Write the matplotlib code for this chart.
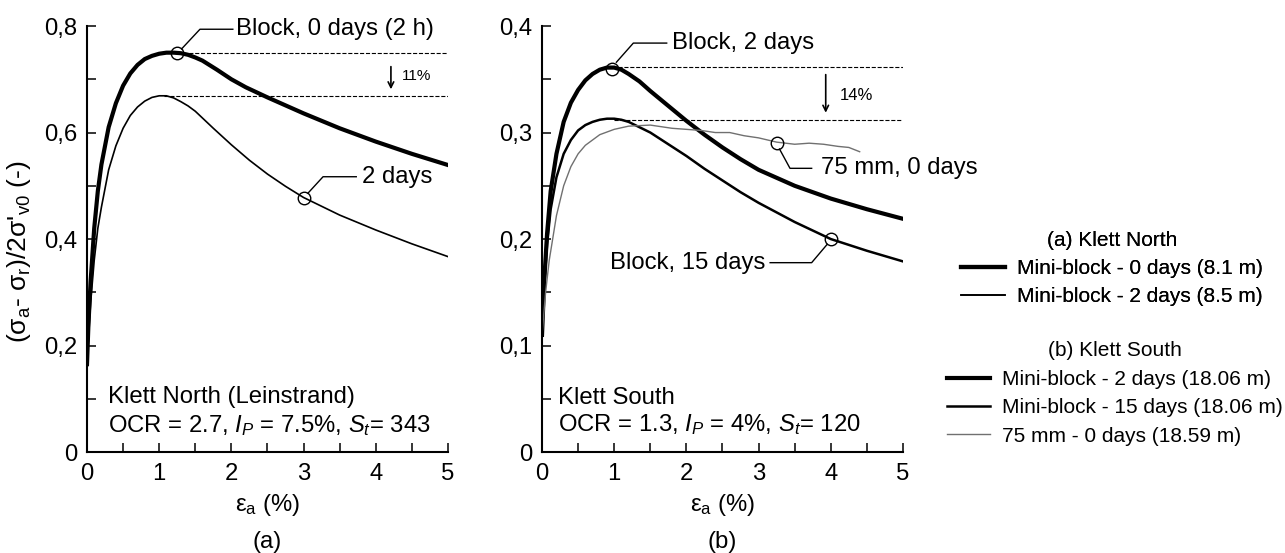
import matplotlib
matplotlib.use("Agg")
import matplotlib.pyplot as plt
from matplotlib.ticker import MultipleLocator, FuncFormatter

plt.rcParams['font.family'] = ['Liberation Sans', 'DejaVu Sans']
plt.rcParams['mathtext.fontset'] = 'custom'
plt.rcParams['mathtext.rm'] = 'Liberation Sans'
plt.rcParams['mathtext.it'] = 'Liberation Sans:italic'

# (a) Klett North
strain_a0 = [0, 0.02, 0.05, 0.1, 0.15, 0.2, 0.3, 0.4, 0.5, 0.6, 0.7, 0.8, 0.9, 1.0, 1.1,
             1.2, 1.3, 1.4, 1.5, 1.6, 1.8, 2.0, 2.2, 2.5, 2.75, 3.0, 3.5, 4.0, 4.5, 5.0]
stress_a0 = [0.165, 0.24, 0.32, 0.42, 0.49, 0.54, 0.61, 0.655, 0.688, 0.711, 0.727, 0.738,
             0.744, 0.748, 0.750, 0.750, 0.749, 0.746, 0.741, 0.735, 0.718, 0.700, 0.685,
             0.666, 0.651, 0.636, 0.608, 0.583, 0.560, 0.539]
strain_a2 = [0, 0.05, 0.1, 0.15, 0.2, 0.3, 0.4, 0.5, 0.6, 0.7, 0.8, 0.9, 1.0, 1.1, 1.2,
             1.3, 1.4, 1.5, 1.75, 2.0, 2.25, 2.5, 2.75, 3.0, 3.5, 4.0, 4.5, 5.0]
stress_a2 = [0.165, 0.28, 0.36, 0.42, 0.46, 0.53, 0.575, 0.608, 0.632, 0.648, 0.659, 0.666,
             0.669, 0.669, 0.665, 0.658, 0.650, 0.640, 0.608, 0.577, 0.548, 0.522, 0.499,
             0.478, 0.445, 0.417, 0.391, 0.367]

# (b) Klett South
strain_b2 = [0, 0.03, 0.07, 0.12, 0.2, 0.3, 0.4, 0.5, 0.6, 0.7, 0.8, 0.9, 1.0, 1.1, 1.2,
             1.35, 1.5, 1.75, 2.0, 2.25, 2.5, 2.75, 3.0, 3.5, 4.0, 4.5, 5.0]
stress_b2 = [0.11, 0.16, 0.205, 0.245, 0.28, 0.31, 0.328, 0.34, 0.349, 0.355, 0.359, 0.361,
             0.361, 0.359, 0.355, 0.348, 0.339, 0.325, 0.311, 0.298, 0.286, 0.275, 0.265,
             0.250, 0.238, 0.228, 0.219]
strain_b15 = [0, 0.03, 0.07, 0.12, 0.2, 0.3, 0.4, 0.5, 0.6, 0.7, 0.8, 0.9, 1.0, 1.1, 1.2,
              1.35, 1.5, 1.75, 2.0, 2.25, 2.5, 2.75, 3.0, 3.5, 4.0, 4.5, 5.0]
stress_b15 = [0.11, 0.155, 0.195, 0.228, 0.258, 0.28, 0.293, 0.302, 0.307, 0.310, 0.312,
              0.313, 0.313, 0.312, 0.310, 0.305, 0.300, 0.289, 0.278, 0.266, 0.255, 0.244,
              0.234, 0.216, 0.200, 0.189, 0.179]
strain_b75 = [0, 0.05, 0.1, 0.2, 0.3, 0.4, 0.5, 0.6, 0.8, 1.0, 1.2, 1.5, 1.8, 2.0,
              2.2, 2.4, 2.6, 2.8, 3.0, 3.25, 3.5, 3.7, 3.9, 4.1, 4.25, 4.4]
stress_b75 = [0.11, 0.15, 0.18, 0.222, 0.25, 0.268, 0.28, 0.288, 0.298, 0.303, 0.306,
              0.307, 0.304, 0.303, 0.302, 0.300, 0.300, 0.297, 0.295, 0.291, 0.289,
              0.290, 0.289, 0.287, 0.286, 0.282]

fig = plt.figure(figsize=(12.85, 5.53), dpi=100)
ax1 = fig.add_axes([0.0677, 0.1826, 0.2809, 0.7703])
ax2 = fig.add_axes([0.4218, 0.1826, 0.2809, 0.7703])

FS = 17.2
comma = FuncFormatter(lambda v, p: ('%g' % v).replace('.', ','))

for ax, ymax, ystep in [(ax1, 0.8, 0.2), (ax2, 0.4, 0.1)]:
    ax.set_xlim(0, 5)
    ax.set_ylim(0, ymax)
    ax.spines['top'].set_visible(False)
    ax.spines['right'].set_visible(False)
    ax.spines['left'].set_linewidth(1.5)
    ax.spines['bottom'].set_linewidth(1.5)
    ax.xaxis.set_major_locator(MultipleLocator(1))
    ax.xaxis.set_minor_locator(MultipleLocator(0.5))
    ax.yaxis.set_major_locator(MultipleLocator(ystep))
    ax.yaxis.set_minor_locator(MultipleLocator(ystep / 2))
    ax.yaxis.set_major_formatter(comma)
    ax.tick_params(which='both', direction='in', length=6.5, width=1.1, labelsize=FS)
    ax.tick_params(axis='x', which='major', pad=8)
    ax.tick_params(axis='y', which='major', pad=7)
    ax.set_xlabel('ε$_\\mathrm{a}$ (%)', fontsize=FS)
    ax.xaxis.set_label_coords(0.5, -0.095)

ax1.set_ylabel("(σ$_\\mathrm{a}$- σ$_\\mathrm{r}$)/2σ'$_\\mathrm{v0}$ (-)", fontsize=19)
ax1.yaxis.set_label_coords(-0.15, 0.47)

# panel (a)
ax1.plot(strain_a0, stress_a0, color='black', lw=3, label='Mini-block - 0 days (8.1 m)')
ax1.plot(strain_a2, stress_a2, color='black', lw=1.2, label='Mini-block - 2 days (8.5 m)')
ax1.plot([1.25, 5], [0.75, 0.75], '--', color='black', lw=0.8)
ax1.plot([1.06, 5], [0.669, 0.669], '--', color='black', lw=0.8)
ax1.annotate('', xy=(4.21, 0.676), xytext=(4.21, 0.729),
             arrowprops=dict(arrowstyle='->', color='black', lw=1.2))
ax1.text(4.36, 0.706, '11%', fontsize=11, va='center')
ax1.plot([1.25], [0.749], 'o', ms=9, mfc='none', mec='black', mew=1)
ax1.plot([1.31, 1.565, 2.02], [0.757, 0.794, 0.794], color='black', lw=1)
ax1.text(2.07, 0.794, 'Block, 0 days (2 h)', fontsize=FS, va='center')
ax1.plot([3], [0.478], 'o', ms=9, mfc='none', mec='black', mew=1)
ax1.plot([3.06, 3.27, 3.73], [0.486, 0.517, 0.517], color='black', lw=1)
ax1.text(3.81, 0.517, '2 days', fontsize=FS, va='center')
ax1.text(0.29, 0.103, 'Klett North (Leinstrand)', fontsize=FS, va='center')
ax1.text(0.29, 0.05, 'OCR = 2.7, $I_P$ = 7.5%, $S_t$= 343', fontsize=FS, va='center')
ax1.text(0.5, -0.211, '(a)', fontsize=FS, ha='center', va='center', transform=ax1.transAxes)

# panel (b)
ax2.plot(strain_b2, stress_b2, color='black', lw=3, label='Mini-block - 2 days (18.06 m)')
ax2.plot(strain_b15, stress_b15, color='black', lw=1.8, label='Mini-block - 15 days (18.06 m)')
ax2.plot(strain_b75, stress_b75, color='#707070', lw=1, label='75 mm - 0 days (18.59 m)')
ax2.plot([1.05, 5], [0.362, 0.362], '--', color='black', lw=0.8)
ax2.plot([1.0, 5], [0.312, 0.312], '--', color='black', lw=0.8)
ax2.annotate('', xy=(3.93, 0.316), xytext=(3.93, 0.357),
             arrowprops=dict(arrowstyle='->', color='black', lw=1.2))
ax2.text(4.13, 0.335, '14%', fontsize=12, va='center')
ax2.plot([0.965], [0.360], 'o', ms=9, mfc='none', mec='black', mew=1)
ax2.plot([1.03, 1.265, 1.727], [0.366, 0.384, 0.384], color='black', lw=1)
ax2.text(1.80, 0.384, 'Block, 2 days', fontsize=FS, va='center')
ax2.plot([3.25], [0.290], 'o', ms=9, mfc='none', mec='black', mew=1)
ax2.plot([3.29, 3.435, 3.735], [0.2845, 0.2664, 0.2664], color='black', lw=1)
ax2.text(3.87, 0.2664, '75 mm, 0 days', fontsize=FS, va='center')
ax2.plot([4], [0.2], 'o', ms=9, mfc='none', mec='black', mew=1)
ax2.plot([3.95, 3.735, 3.16], [0.195, 0.1778, 0.1778], color='black', lw=1)
ax2.text(3.09, 0.1778, 'Block, 15 days', fontsize=FS, va='center', ha='right')
ax2.text(0.226, 0.0507, 'Klett South', fontsize=FS, va='center')
ax2.text(0.226, 0.0254, 'OCR = 1.3, $I_P$ = 4%, $S_t$= 120', fontsize=FS, va='center')
ax2.text(0.5, -0.211, '(b)', fontsize=FS, ha='center', va='center', transform=ax2.transAxes)

# legends
LFS = 15
h1, l1 = ax1.get_legend_handles_labels()
h2, l2 = ax2.get_legend_handles_labels()
leg1 = fig.legend(h1, l1, title='(a) Klett North', loc='center',
                  bbox_to_anchor=(0.8654, 0.5145), frameon=False, fontsize=LFS,
                  title_fontsize=LFS, handlelength=2.1, handletextpad=0.55,
                  labelspacing=0.45)
leg2 = fig.legend(h2, l2, title='(b) Klett South', loc='center',
                  bbox_to_anchor=(0.8673, 0.2884), frameon=False, fontsize=LFS,
                  title_fontsize=LFS, handlelength=2.1, handletextpad=0.55,
                  labelspacing=0.45)
fig.add_artist(leg1)

fig.savefig('out.png', dpi=100)
